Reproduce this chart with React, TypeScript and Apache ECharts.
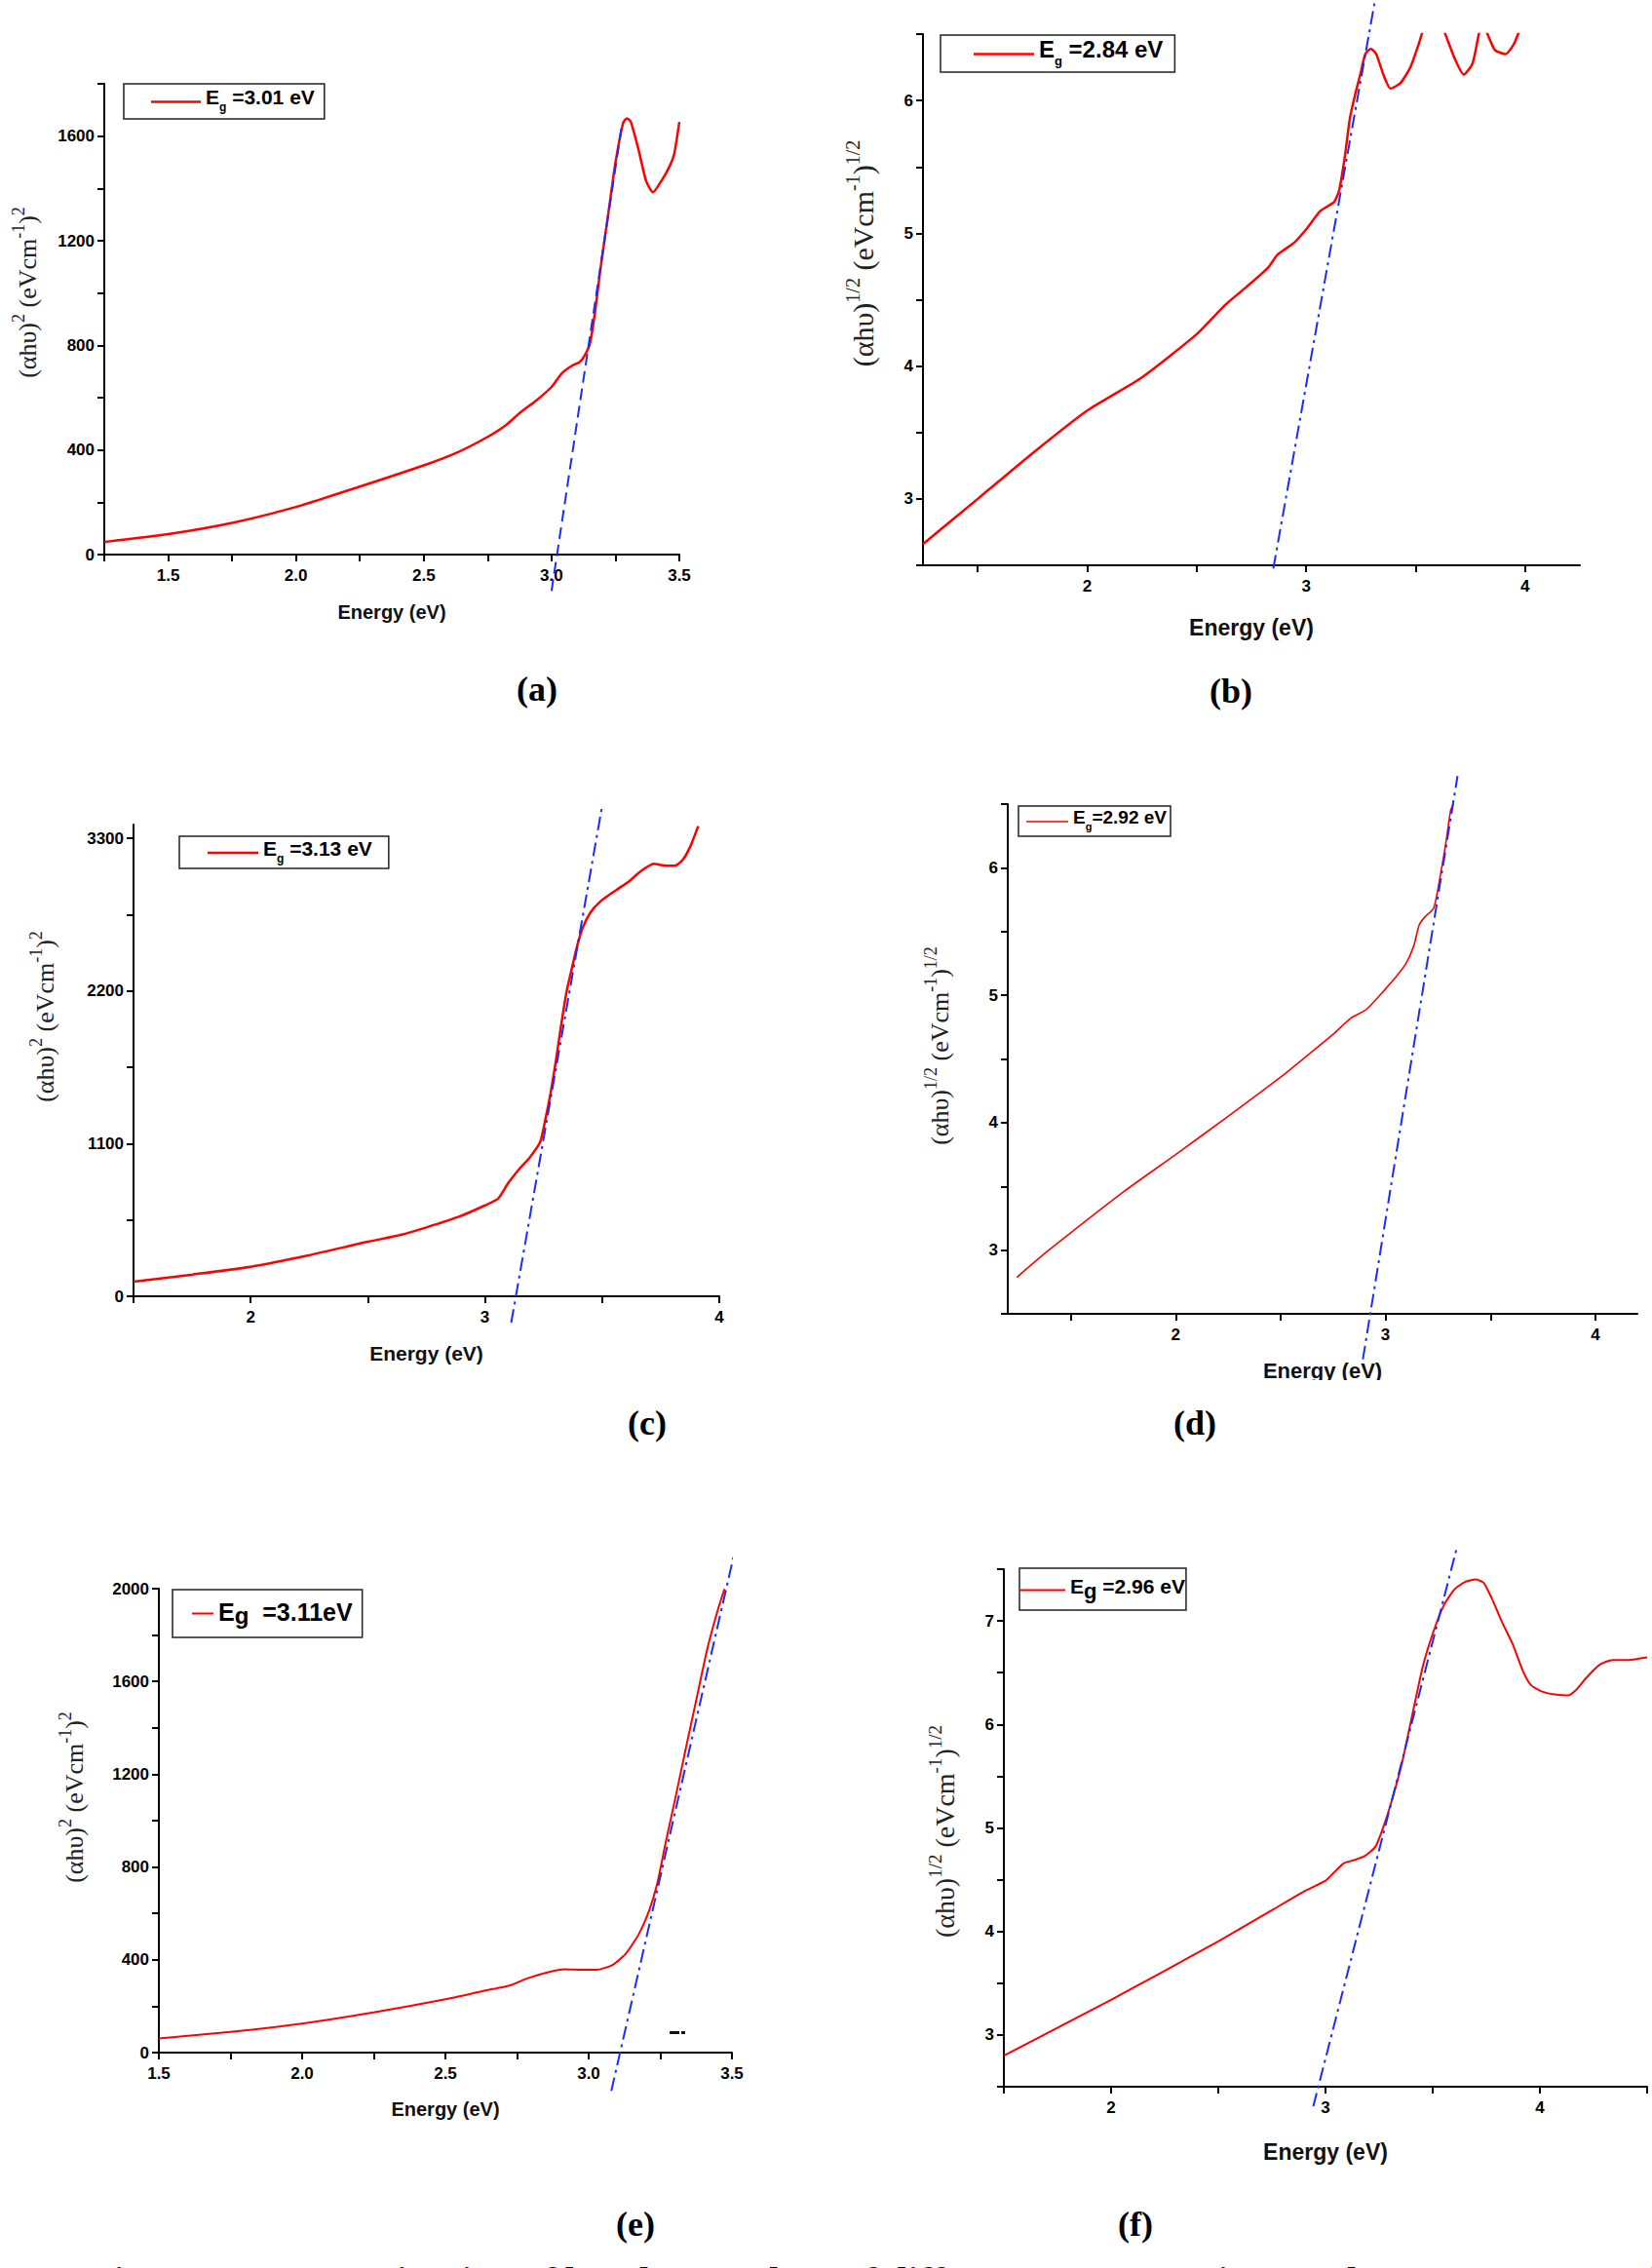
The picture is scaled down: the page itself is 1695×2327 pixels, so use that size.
import React, { useEffect, useRef } from "react";
import * as echarts from "echarts";

const SERIF = "'Liberation Serif', 'Times New Roman', serif";
const SANS = "'Liberation Sans', Arial, sans-serif";

// (a) (αhυ)^2 against photon energy
const aEnergy = [1.25, 1.5, 1.75, 2.0, 2.25, 2.5, 2.63, 2.75, 2.82, 2.88, 2.94, 3.0, 3.04, 3.08, 3.11, 3.13, 3.15, 3.17, 3.19, 3.21, 3.23, 3.25, 3.28, 3.295, 3.31, 3.34, 3.37, 3.397, 3.43, 3.46, 3.48, 3.5];
const aValue = [48, 78, 121, 182, 260, 341, 390, 450, 494, 545, 589, 641, 693, 722, 736, 762, 805, 926, 1082, 1221, 1359, 1498, 1650, 1668, 1655, 1550, 1429, 1385, 1429, 1481, 1532, 1654];
const aFitEnergy = [3.0, 3.273];
const aFitValue = [-139, 1628];
const aXTicks = [1.25, 1.5, 1.75, 2.0, 2.25, 2.5, 2.75, 3.0, 3.25, 3.5];
const aXLabels = [1.5, 2.0, 2.5, 3.0, 3.5];
const aYTicks = [0, 200, 400, 600, 800, 1000, 1200, 1400, 1600, 1800];
const aYLabels = [0, 400, 800, 1200, 1600];

// (b) (αhυ)^1/2
const bEnergy = [1.25, 1.5, 1.74, 2.0, 2.25, 2.5, 2.63, 2.73, 2.825, 2.87, 2.946, 3.0, 3.066, 3.127, 3.15, 3.175, 3.2, 3.223, 3.247, 3.27, 3.295, 3.32, 3.356, 3.385, 3.43, 3.476, 3.513, 3.53, 3.58, 3.633, 3.68, 3.72, 3.76, 3.79, 3.808, 3.826, 3.862, 3.91, 3.947, 3.97, 3.99];
const bValue = [2.66, 3.0, 3.33, 3.665, 3.915, 4.24, 4.46, 4.6, 4.74, 4.84, 4.93, 5.03, 5.17, 5.235, 5.32, 5.56, 5.87, 6.04, 6.195, 6.35, 6.39, 6.35, 6.18, 6.09, 6.13, 6.25, 6.42, 6.51, 6.72, 6.51, 6.31, 6.195, 6.28, 6.51, 6.58, 6.51, 6.38, 6.35, 6.42, 6.51, 6.6];
const bFitEnergy = [2.85, 3.315];
const bFitValue = [2.476, 6.76];
const bXTicks = [1.5, 2, 2.5, 3, 3.5, 4];
const bXLabels = [2, 3, 4];
const bYTicks = [2.5, 3, 3.5, 4, 4.5, 5, 5.5, 6, 6.5];
const bYLabels = [3, 4, 5, 6];

// (c) (αhυ)^2
const cEnergy = [1.5, 1.753, 2.0, 2.247, 2.5, 2.64, 2.753, 2.888, 3.0, 3.056, 3.1, 3.146, 3.19, 3.236, 3.258, 3.281, 3.303, 3.326, 3.348, 3.37, 3.393, 3.416, 3.45, 3.494, 3.562, 3.618, 3.663, 3.72, 3.764, 3.81, 3.843, 3.876, 3.91];
const cValue = [105, 157, 213, 295, 393, 442, 498, 573, 655, 704, 818, 917, 998, 1113, 1277, 1473, 1702, 1964, 2193, 2357, 2521, 2652, 2766, 2848, 2930, 2995, 3061, 3117, 3105, 3103, 3143, 3241, 3389];
const cFitEnergy = [3.112, 3.501];
const cFitValue = [-190, 3542];
const cXTicks = [1.5, 2, 2.5, 3, 3.5, 4];
const cXLabels = [2, 3, 4];
const cYTicks = [0, 550, 1100, 1650, 2200, 2750, 3300];
const cYLabels = [0, 1100, 2200, 3300];

// (d) (αhυ)^1/2
const dEnergy = [1.243, 1.381, 1.5, 1.757, 2.0, 2.25, 2.5, 2.634, 2.752, 2.835, 2.91, 3.0, 3.048, 3.098, 3.135, 3.16, 3.185, 3.23, 3.26, 3.286, 3.31, 3.323];
const dValue = [2.786, 2.98, 3.136, 3.464, 3.75, 4.05, 4.357, 4.536, 4.696, 4.82, 4.89, 5.05, 5.14, 5.25, 5.39, 5.55, 5.61, 5.686, 5.93, 6.18, 6.45, 6.5];
const dFitEnergy = [2.892, 3.343];
const dFitValue = [2.143, 6.72];
const dXTicks = [1.5, 2, 2.5, 3, 3.5, 4];
const dXLabels = [2, 3, 4];
const dYTicks = [2.5, 3, 3.5, 4, 4.5, 5, 5.5, 6, 6.5];
const dYLabels = [3, 4, 5, 6];

// (e) (αhυ)^2
const eEnergy = [1.5, 1.749, 2.0, 2.249, 2.5, 2.64, 2.723, 2.788, 2.862, 2.917, 2.972, 3.028, 3.083, 3.129, 3.175, 3.212, 3.24, 3.268, 3.305, 3.341, 3.378, 3.415, 3.452, 3.474];
const eValue = [61, 89, 125, 173, 230, 268, 289, 321, 348, 359, 357, 357, 378, 426, 511, 616, 732, 901, 1112, 1323, 1535, 1746, 1914, 1999];
const eFitEnergy = [3.079, 3.513];
const eFitValue = [-165, 2178];
const eXTicks = [1.5, 1.75, 2.0, 2.25, 2.5, 2.75, 3.0, 3.25, 3.5];
const eXLabels = [1.5, 2.0, 2.5, 3.0, 3.5];
const eYTicks = [0, 200, 400, 600, 800, 1000, 1200, 1400, 1600, 1800, 2000];
const eYLabels = [0, 400, 800, 1200, 1600, 2000];

// (f) (αhυ)^1/2
const fEnergy = [1.5, 1.76, 2.0, 2.25, 2.5, 2.754, 2.89, 3.0, 3.037, 3.086, 3.135, 3.184, 3.233, 3.27, 3.307, 3.356, 3.405, 3.455, 3.504, 3.553, 3.602, 3.651, 3.7, 3.737, 3.774, 3.823, 3.872, 3.92, 3.958, 4.007, 4.069, 4.13, 4.167, 4.216, 4.278, 4.339, 4.413, 4.5];
const fValue = [2.8, 3.08, 3.34, 3.62, 3.905, 4.21, 4.376, 4.49, 4.564, 4.66, 4.69, 4.73, 4.82, 5.01, 5.25, 5.62, 6.095, 6.57, 6.9, 7.155, 7.306, 7.377, 7.4, 7.37, 7.226, 6.99, 6.78, 6.52, 6.38, 6.32, 6.29, 6.28, 6.33, 6.45, 6.576, 6.623, 6.623, 6.647];
const fFitEnergy = [2.943, 3.614];
const fFitValue = [2.312, 7.72];
const fXTicks = [1.5, 2, 2.5, 3, 3.5, 4, 4.5];
const fXLabels = [2, 3, 4];
const fYTicks = [2.5, 3, 3.5, 4, 4.5, 5, 5.5, 6, 6.5, 7, 7.5];
const fYLabels = [3, 4, 5, 6, 7];

const bandGaps = ["3.01", "2.84", "3.13", "2.92", "3.11", "2.96"];

type Panel = {
  id: string;
  box: { left: number; top: number; width: number; height: number };
  xMin: number; xMax: number; xTicks: number[]; xLabels: number[]; xDigits: number;
  yMin: number; yMax: number; yTicks: number[]; yLabels: number[];
  energy: number[]; value: number[]; fitEnergy: number[]; fitValue: number[];
  fitDash: number[]; redWidth: number;
  legend: { left: number; top: number; fs: number; gSize: number; gDrop: number; itemWidth: number; padding: number[]; rest: string };
  yName: { x: number; y: number; fs: number; pow: string };
  xName: { y: number; fs: number };
  caption: { x: number; y: number };
};

const dashDot = [14, 5, 3, 5];

const panels: Panel[] = [
  {
    id: "a", box: { left: 107, top: 86, width: 590, height: 483 },
    xMin: 1.25, xMax: 3.5, xTicks: aXTicks, xLabels: aXLabels, xDigits: 1,
    yMin: 0, yMax: 1800, yTicks: aYTicks, yLabels: aYLabels,
    energy: aEnergy, value: aValue, fitEnergy: aFitEnergy, fitValue: aFitValue,
    fitDash: [12, 6], redWidth: 2.5,
    legend: { left: 127, top: 86, fs: 21, gSize: 12, gDrop: 10, itemWidth: 51, padding: [3, 10, 2, 28], rest: " =" + bandGaps[0] + " eV" },
    yName: { x: 25, y: 300, fs: 26, pow: "2" },
    xName: { y: 628, fs: 20 },
    caption: { x: 551, y: 707 },
  },
  {
    id: "b", box: { left: 947, top: 35, width: 674, height: 545 },
    xMin: 1.25, xMax: 4.25, xTicks: bXTicks, xLabels: bXLabels, xDigits: 0,
    yMin: 2.5, yMax: 6.5, yTicks: bYTicks, yLabels: bYLabels,
    energy: bEnergy, value: bValue, fitEnergy: bFitEnergy, fitValue: bFitValue,
    fitDash: dashDot, redWidth: 2.5,
    legend: { left: 965, top: 36, fs: 24, gSize: 13, gDrop: 11, itemWidth: 62, padding: [2, 12, 1, 34], rest: " =" + bandGaps[1] + " eV" },
    yName: { x: 882, y: 260, fs: 30, pow: "1/2" },
    xName: { y: 644, fs: 23 },
    caption: { x: 1263, y: 709 },
  },
  {
    id: "c", box: { left: 137, top: 846, width: 601, height: 484 },
    xMin: 1.5, xMax: 4, xTicks: cXTicks, xLabels: cXLabels, xDigits: 0,
    yMin: 0, yMax: 3400, yTicks: cYTicks, yLabels: cYLabels,
    energy: cEnergy, value: cValue, fitEnergy: cFitEnergy, fitValue: cFitValue,
    fitDash: dashDot, redWidth: 2.5,
    legend: { left: 184, top: 858, fs: 21, gSize: 12, gDrop: 9, itemWidth: 52, padding: [2, 17, 1, 29], rest: " =" + bandGaps[2] + " eV" },
    yName: { x: 43, y: 1043, fs: 26, pow: "2" },
    xName: { y: 1388, fs: 21 },
    caption: { x: 664, y: 1460 },
  },
  {
    id: "d", box: { left: 1034, top: 825, width: 646, height: 523 },
    xMin: 1.2, xMax: 4.2, xTicks: dXTicks, xLabels: dXLabels, xDigits: 0,
    yMin: 2.5, yMax: 6.5, yTicks: dYTicks, yLabels: dYLabels,
    energy: dEnergy, value: dValue, fitEnergy: dFitEnergy, fitValue: dFitValue,
    fitDash: dashDot, redWidth: 1.6,
    legend: { left: 1045, top: 827, fs: 19, gSize: 11, gDrop: 9, itemWidth: 43, padding: [2, 4, 1, 8], rest: "=" + bandGaps[3] + " eV" },
    yName: { x: 961, y: 1073, fs: 26, pow: "1/2" },
    xName: { y: 1406, fs: 22 },
    caption: { x: 1226, y: 1460 },
  },
  {
    id: "e", box: { left: 163, top: 1630, width: 588, height: 476 },
    xMin: 1.5, xMax: 3.5, xTicks: eXTicks, xLabels: eXLabels, xDigits: 1,
    yMin: 0, yMax: 2000, yTicks: eYTicks, yLabels: eYLabels,
    energy: eEnergy, value: eValue, fitEnergy: eFitEnergy, fitValue: eFitValue,
    fitDash: dashDot, redWidth: 2,
    legend: { left: 177, top: 1631, fs: 25, gSize: 24, gDrop: 4, itemWidth: 22, padding: [10, 10, 10, 20], rest: "  =" + bandGaps[4] + "eV" },
    yName: { x: 73, y: 1844, fs: 26, pow: "2" },
    xName: { y: 2164, fs: 20 },
    caption: { x: 652, y: 2282 },
  },
  {
    id: "f", box: { left: 1030, top: 1610, width: 660, height: 531 },
    xMin: 1.5, xMax: 4.5, xTicks: fXTicks, xLabels: fXLabels, xDigits: 0,
    yMin: 2.5, yMax: 7.5, yTicks: fYTicks, yLabels: fYLabels,
    energy: fEnergy, value: fValue, fitEnergy: fFitEnergy, fitValue: fFitValue,
    fitDash: dashDot, redWidth: 2,
    legend: { left: 1046, top: 1609, fs: 21, gSize: 22, gDrop: 8, itemWidth: 46, padding: [8, 1, 6, 1], rest: " =" + bandGaps[5] + " eV" },
    yName: { x: 966, y: 1879, fs: 28, pow: "1/2" },
    xName: { y: 2208, fs: 23 },
    caption: { x: 1165, y: 2282 },
  },
];

const pairs = (xs: number[], ys: number[]) => xs.map((x, i) => [x, ys[i]]);

const axisLineStyle = { color: "#000", width: 2 };

function buildOption() {
  const grid = panels.map((p) => ({ ...p.box, outerBoundsMode: "none" }));

  const xAxis = panels.map((p, i) => ({
    type: "value",
    gridIndex: i,
    min: p.xMin,
    max: p.xMax,
    axisLine: { show: true, onZero: false, lineStyle: axisLineStyle },
    axisTick: { show: true, customValues: p.xTicks, length: 7, lineStyle: axisLineStyle },
    axisLabel: {
      show: true,
      customValues: p.xLabels,
      margin: 13,
      color: "#000",
      fontFamily: SANS,
      fontWeight: "bold",
      fontSize: 17,
      formatter: (v: number) => (p.xDigits ? v.toFixed(p.xDigits) : String(v)),
    },
    splitLine: { show: false },
  }));

  const yAxis = panels.map((p, i) => ({
    type: "value",
    gridIndex: i,
    min: p.yMin,
    max: p.yMax,
    axisLine: { show: true, onZero: false, lineStyle: axisLineStyle },
    axisTick: { show: true, customValues: p.yTicks, length: 7, lineStyle: axisLineStyle },
    axisLabel: {
      show: true,
      customValues: p.yLabels,
      margin: 10,
      color: "#000",
      fontFamily: SANS,
      fontWeight: "bold",
      fontSize: 17,
      formatter: (v: number) => String(v),
    },
    splitLine: { show: false },
  }));

  const series = panels.flatMap((p, i) => [
    {
      name: p.id,
      type: "line",
      xAxisIndex: i,
      yAxisIndex: i,
      data: pairs(p.energy, p.value),
      symbol: "none",
      smooth: 0.2,
      clip: true,
      lineStyle: { color: "#ff0000", width: p.redWidth },
      itemStyle: { color: "#ff0000" },
      z: 2,
    },
    {
      name: p.id + "-fit",
      type: "line",
      xAxisIndex: i,
      yAxisIndex: i,
      data: pairs(p.fitEnergy, p.fitValue),
      symbol: "none",
      clip: false,
      lineStyle: { color: "#1a2cff", width: 2, type: p.fitDash },
      z: 3,
    },
  ]);

  const legend = panels.map((p) => {
    const L = p.legend;
    const main = {
      fontFamily: SANS,
      fontWeight: "bold",
      fontSize: L.fs,
      lineHeight: L.fs + 2,
      padding: [0, 0, L.gDrop, 0],
      color: "#000",
    };
    return {
      data: [p.id],
      left: L.left,
      top: L.top,
      padding: L.padding,
      borderColor: "#222",
      borderWidth: 1.5,
      icon: "rect",
      itemWidth: L.itemWidth,
      itemHeight: p.redWidth,
      itemStyle: { color: "#ff0000" },
      selectedMode: false,
      formatter: () => `{e|E}{g|g}{t|${L.rest}}`,
      textStyle: {
        rich: {
          e: main,
          t: main,
          g: {
            fontFamily: SANS,
            fontWeight: "bold",
            fontSize: L.gSize,
            lineHeight: L.gSize,
            verticalAlign: "bottom",
            color: "#000",
          },
        },
      },
    };
  });

  const texts: any[] = [];
  panels.forEach((p) => {
    const fs = p.yName.fs;
    const sup = Math.round(fs * 0.68);
    texts.push({
      type: "text",
      x: p.yName.x,
      y: p.yName.y,
      rotation: Math.PI / 2,
      style: {
        text: `{m|(αhυ)}{s|${p.yName.pow}}{m| (eVcm}{s|-1}{m|)}{s|${p.yName.pow}}`,
        rich: {
          m: { fontFamily: SERIF, fontSize: fs, lineHeight: fs + 4, padding: [Math.round(fs * 0.22), 0, 0, 0], fill: "#222" },
          s: { fontFamily: SERIF, fontSize: sup, lineHeight: sup, verticalAlign: "top", fill: "#222" },
        },
        align: "center",
        verticalAlign: "middle",
        textAlign: "center",
        textVerticalAlign: "middle",
      },
    });
    texts.push({
      type: "text",
      x: p.box.left + p.box.width / 2,
      y: p.xName.y,
      style: {
        text: "Energy (eV)",
        font: `bold ${p.xName.fs}px ${SANS}`,
        fill: "#111",
        align: "center",
        verticalAlign: "middle",
        textAlign: "center",
        textVerticalAlign: "middle",
      },
    });
    texts.push({
      type: "text",
      x: p.caption.x,
      y: p.caption.y,
      style: {
        text: `(${p.id})`,
        font: `bold 36px ${SERIF}`,
        fill: "#000",
        align: "center",
        verticalAlign: "middle",
        textAlign: "center",
        textVerticalAlign: "middle",
      },
    });
  });

  // panel (d) is cropped just under its axis title
  texts.push({
    type: "rect",
    shape: { x: 1280, y: 1416, width: 160, height: 10 },
    style: { fill: "#fff" },
    z: 100,
  });

  // stray specks near the right end of panel (e)
  texts.push({ type: "rect", shape: { x: 687, y: 2084, width: 10, height: 3 }, style: { fill: "#111" } });
  texts.push({ type: "rect", shape: { x: 699, y: 2084, width: 4, height: 3 }, style: { fill: "#111" } });
  texts.push({ type: "circle", shape: { cx: 719, cy: 2087, r: 1.5 }, style: { fill: "#111" } });
  texts.push({ type: "circle", shape: { cx: 752, cy: 2087, r: 1.5 }, style: { fill: "#111" } });

  // the figure caption, cut off by the bottom edge
  texts.push({
    type: "text",
    x: 92,
    y: 2320,
    style: {
      text: "Figure 14: Determination of band gap values of different concentrations and GO/NPP composites",
      font: `bold 40px ${SERIF}`,
      fill: "#000",
      align: "left",
      verticalAlign: "top",
      textAlign: "left",
      textVerticalAlign: "top",
    },
  });

  return {
    animation: false,
    backgroundColor: "#fff",
    grid,
    xAxis,
    yAxis,
    legend,
    series,
    graphic: { elements: texts },
  };
}

const App = () => {
  const chartRef = useRef<HTMLDivElement>(null);

  useEffect(() => {
    const chart = echarts.init(chartRef.current, undefined, { renderer: "svg" });
    chart.setOption(buildOption() as any);
    return () => {
      chart.dispose();
    };
  }, []);

  return (
    <div
      ref={chartRef}
      style={{ position: "absolute", left: 0, top: 0, width: "1695px", height: "2327px", background: "#fff" }}
    ></div>
  );
};

export default App;
